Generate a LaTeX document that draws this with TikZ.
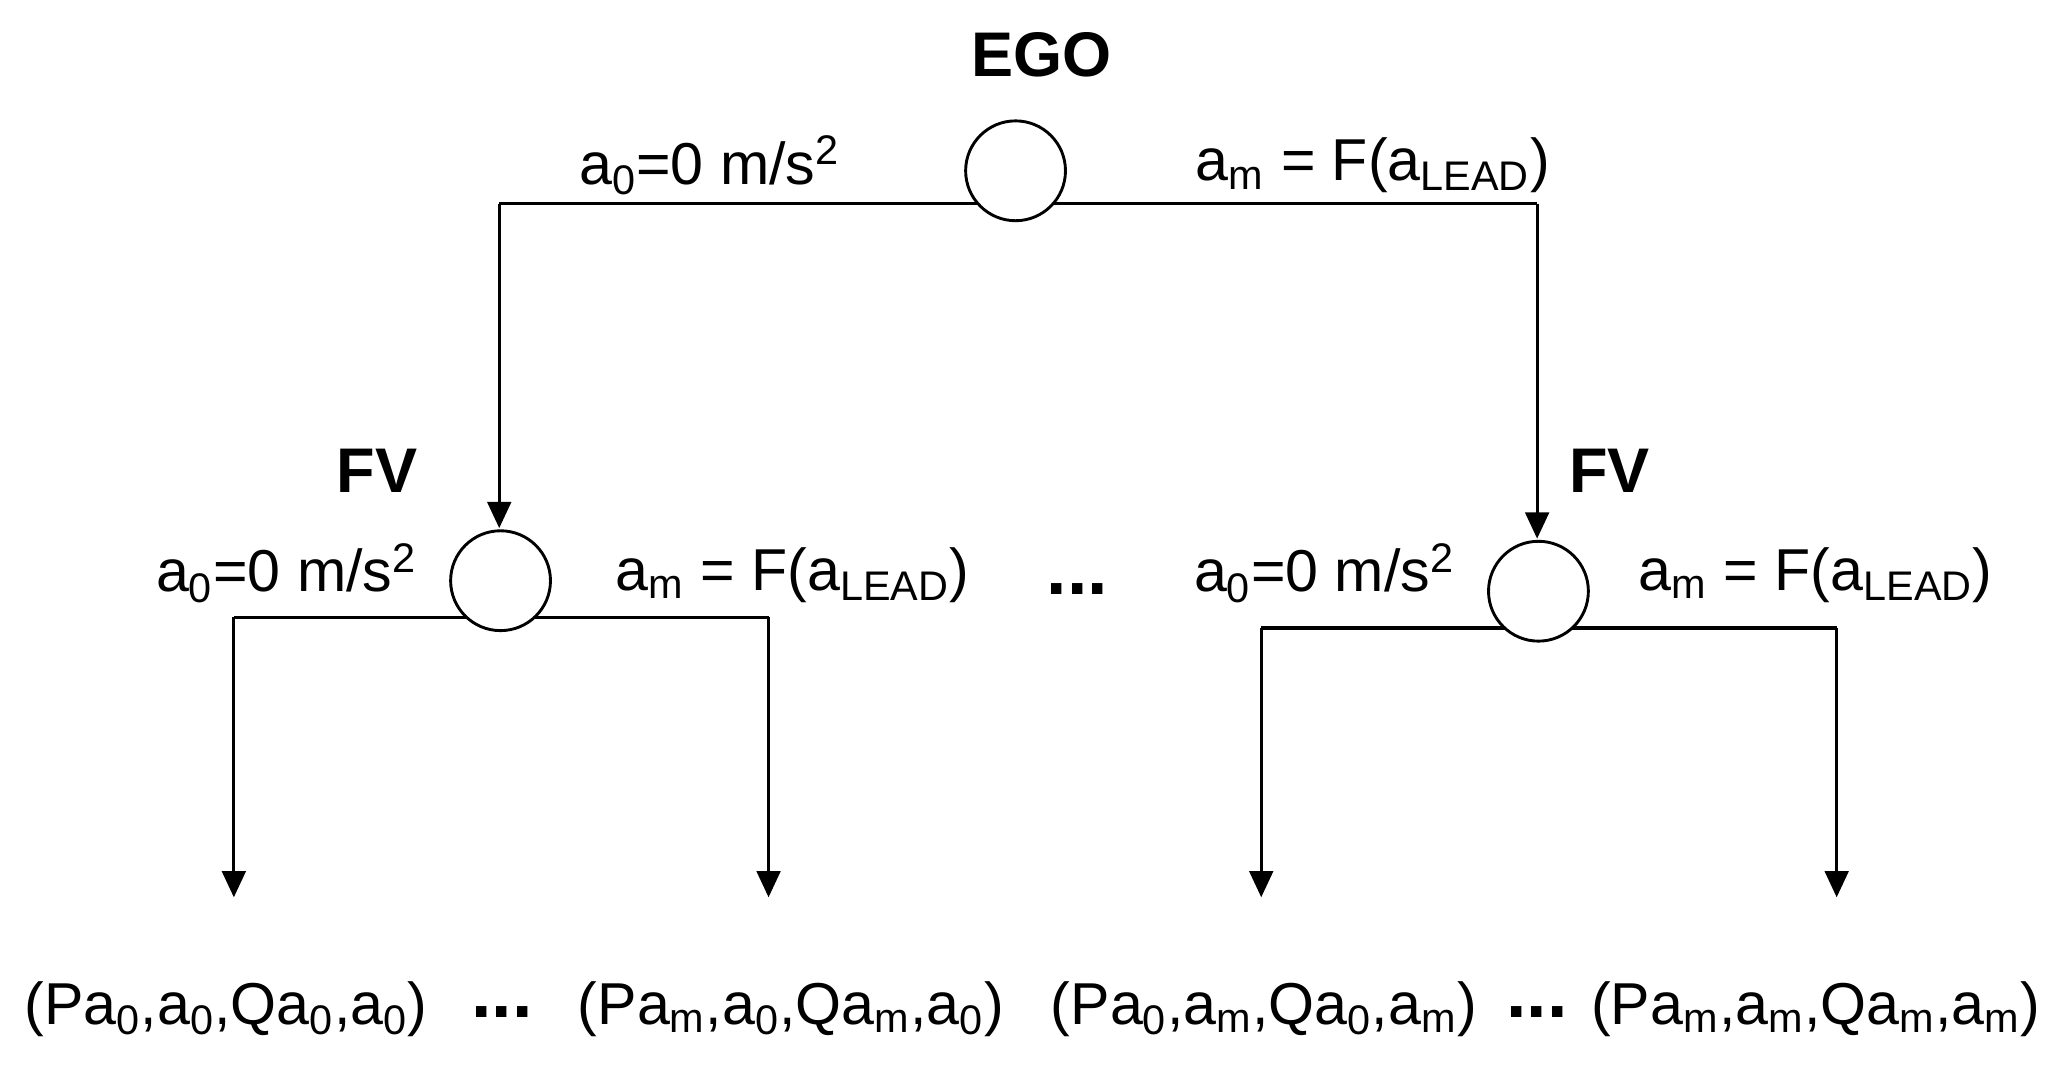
\documentclass[tikz,border=0pt]{standalone}
\usepackage{fontspec}
\setmainfont{Liberation Sans}
\usetikzlibrary{arrows.meta}
\begin{document}
\begin{tikzpicture}[x=0.5pt,y=-0.5pt,
  st/.style={circle,draw,line width=1.1pt,fill=white,minimum size=38pt,inner sep=0pt},
  lbl/.style={font=\fontsize{22.5}{26}\selectfont},
  bold/.style={font=\fontsize{24}{28}\selectfont\bfseries},
  dots/.style={font=\fontsize{28}{30}\selectfont\bfseries},
  ar/.style={line width=1.2pt,-{Triangle[width=9pt,length=10pt]}},
  ln/.style={line width=1.2pt}]
\useasboundingbox (0,0) rectangle (1568,820);
% top
\coordinate (tl) at (380,155); \coordinate (tr) at (1170,155);
\coordinate (fl) at (380,402); \coordinate (fr) at (1170,410);
\draw[ln] (tl) -- (tr);
\node[st] (ego) at (773,130) {};
\node[bold] (egol) at (793,42) {EGO};
\draw[ar] (tl) -- (fl);
\draw[ar] (tr) -- (fr);
\node[lbl] (t1) at (540,126) {a\textsubscript{0}=0 m/s\textsuperscript{2}};
\node[lbl] (t2) at (1045,126) {a\textsubscript{m} = F(a\textsubscript{LEAD})};
% left FV
\coordinate (l1) at (178,470); \coordinate (l2) at (585,470);
\coordinate (l1b) at (178,683); \coordinate (l2b) at (585,683);
\draw[ln] (l1) -- (l2);
\node[st] (fvl) at (381,442) {};
\node[bold] (fvll) at (287,358) {FV};
\draw[ar] (l1) -- (l1b);
\draw[ar] (l2) -- (l2b);
\node[lbl] (l3) at (218,436) {a\textsubscript{0}=0 m/s\textsuperscript{2}};
\node[lbl] (l4) at (603,438) {a\textsubscript{m} = F(a\textsubscript{LEAD})};
\node[dots] (md) at (820,448) {...};
% right FV
\coordinate (r1) at (960,478); \coordinate (r2) at (1398,478);
\coordinate (r1b) at (960,683); \coordinate (r2b) at (1398,683);
\draw[ln] (r1) -- (r2);
\node[st] (fvr) at (1171,450) {};
\node[bold] (fvrl) at (1225,358) {FV};
\draw[ar] (r1) -- (r1b);
\draw[ar] (r2) -- (r2b);
\node[lbl] (r3) at (1008,436) {a\textsubscript{0}=0 m/s\textsuperscript{2}};
\node[lbl] (r4) at (1382,438) {a\textsubscript{m} = F(a\textsubscript{LEAD})};
% leaves
\node[lbl] (b1) at (172,768) {(Pa\textsubscript{0},a\textsubscript{0},Qa\textsubscript{0},a\textsubscript{0})};
\node[lbl] (b2) at (602,768) {(Pa\textsubscript{m},a\textsubscript{0},Qa\textsubscript{m},a\textsubscript{0})};
\node[lbl] (b3) at (962,768) {(Pa\textsubscript{0},a\textsubscript{m},Qa\textsubscript{0},a\textsubscript{m})};
\node[lbl] (b4) at (1382,768) {(Pa\textsubscript{m},a\textsubscript{m},Qa\textsubscript{m},a\textsubscript{m})};
\node[dots] (d1) at (382,770) {...};
\node[dots] (d2) at (1170,770) {...};
\end{tikzpicture}
\end{document}
